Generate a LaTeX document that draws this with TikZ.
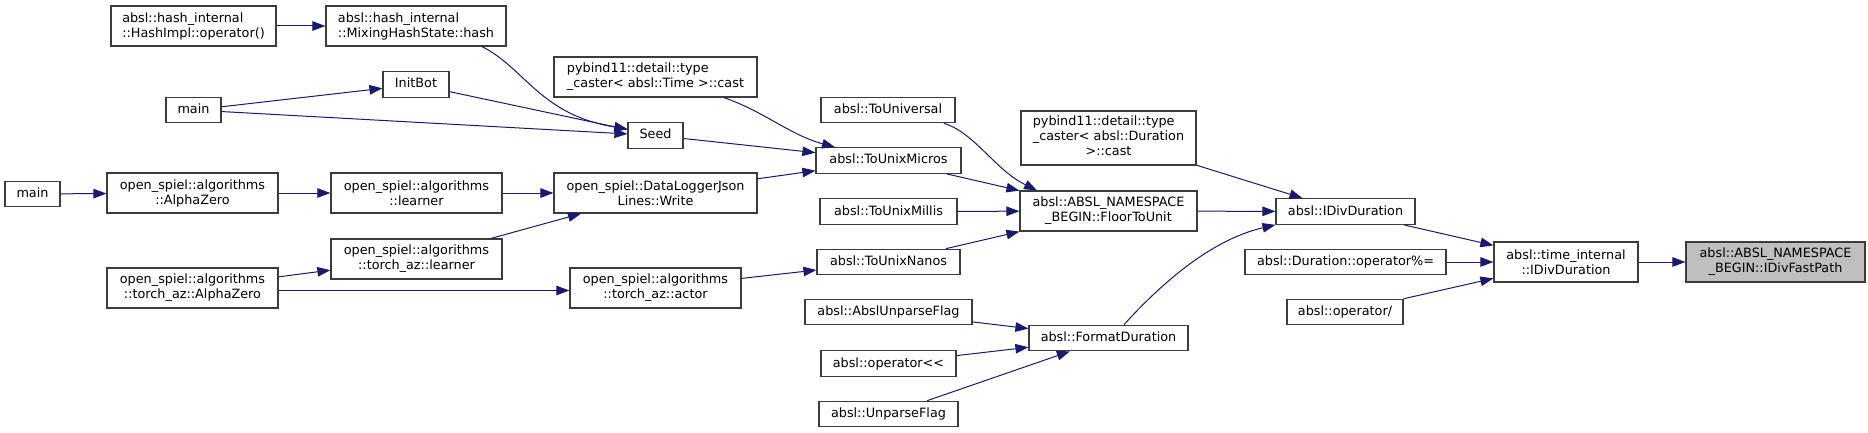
\documentclass[tikz,border=0pt]{standalone}
\usepackage{fontspec}
\setmainfont{DejaVu Sans}[Ligatures=TeXOff]
\usetikzlibrary{arrows.meta}
\definecolor{EdgeBlue}{RGB}{25,25,112}
\definecolor{BoxLine}{RGB}{60,60,60}
\definecolor{HiFill}{RGB}{191,191,191}

\begin{document}
\begin{tikzpicture}[x=1pt, y=-1pt,
    every node/.style={font=\fontsize{12.8pt}{15pt}\selectfont},
    fbox/.style={draw=BoxLine, line width=1.2pt, fill=white, inner sep=0pt},
    fn/.style={fbox, minimum height=25.5pt, text height=9.6pt, text depth=2.6pt},
    fn2/.style={fbox, minimum height=40pt, align=center},
    hl/.style={fill=HiFill},
    call/.style={EdgeBlue, line width=1pt, -{Triangle[length=13pt, width=9.5pt]}}]
    \useasboundingbox (0,0) rectangle (1868,433);

    \node[fn, minimum width=55pt] (mainleft) at (32.5,194) {main};
    \node[fn2, minimum width=165pt, align=left] (hashop) at (193.5,26) {absl::hash\_internal\\::HashImpl::operator()};
    \node[fn, minimum width=55pt] (maintop) at (193.5,110) {main};
    \node[fn2, minimum width=171pt] (alphazero) at (192.5,193) {open\_spiel::algorithms\\::AlphaZero};
    \node[fn2, minimum width=171pt] (torchalpha) at (192.5,288) {open\_spiel::algorithms\\::torch\_az::AlphaZero};

    \node[fn2, minimum width=180pt, align=left] (mixhash) at (416,26) {absl::hash\_internal\\::MixingHashState::hash};
    \node[fn, minimum width=66pt] (initbot) at (416,84.5) {InitBot};
    \node[fn2, minimum width=171pt] (learner) at (416.5,193) {open\_spiel::algorithms\\::learner};
    \node[fn2, minimum width=171pt] (torchlearner) at (416.5,259) {open\_spiel::algorithms\\::torch\_az::learner};

    \node[fn2, minimum width=203pt, align=left] (timecast) at (655.5,77) {pybind11::detail::type\\\_caster< absl::Time >::cast};
    \node[fn, minimum width=55pt] (seed) at (655.5,135.5) {Seed};
    \node[fn2, minimum width=203pt] (datalogger) at (655.5,193) {open\_spiel::DataLoggerJson\\Lines::Write};
    \node[fn2, minimum width=171pt] (torchactor) at (655.5,288) {open\_spiel::algorithms\\::torch\_az::actor};

    \node[fn, minimum width=134pt] (touniversal) at (888,110) {absl::ToUniversal};
    \node[fn, minimum width=145pt] (tomicros) at (888.5,160.5) {absl::ToUnixMicros};
    \node[fn, minimum width=137pt] (tomillis) at (888.5,211.5) {absl::ToUnixMillis};
    \node[fn, minimum width=143pt] (tonanos) at (888.5,262) {absl::ToUnixNanos};
    \node[fn, minimum width=167pt] (abslunparse) at (888.5,312) {absl::AbslUnparseFlag};
    \node[fn, minimum width=135pt] (opshift) at (888.5,363.5) {absl::operator<<};
    \node[fn, minimum width=139pt] (unparseflag) at (888.5,414) {absl::UnparseFlag};

    \node[fbox, minimum width=175pt, minimum height=54pt] (durcast) at (1108.5,138) {\begin{tabular}{@{}l@{}}pybind11::detail::type\\\_caster< absl::Duration\\\multicolumn{1}{@{}c@{}}{>::cast}\end{tabular}};
    \node[fn2, minimum width=177pt] (floortounit) at (1108.5,211) {absl::ABSL\_NAMESPACE\\\_BEGIN::FloorToUnit};
    \node[fn, minimum width=159pt] (formatdur) at (1108.5,338) {absl::FormatDuration};

    \node[fn, minimum width=139pt] (idivduration) at (1345.5,211.5) {absl::IDivDuration};
    \node[fn, minimum width=201pt] (durmod) at (1345.5,262) {absl::Duration::operator\%=};
    \node[fn, minimum width=116pt] (opdiv) at (1345,312) {absl::operator/};

    \node[fn2, minimum width=144pt] (timeidiv) at (1566,262) {absl::time\_internal\\::IDivDuration};
    \node[fn2, hl, minimum width=179pt] (fastpath) at (1775.5,262) {absl::ABSL\_NAMESPACE\\\_BEGIN::IDivFastPath};

    \draw[call] (hashop) -- (mixhash);
    \draw[call] ([xshift=66pt]mixhash.south) .. controls (525,68) and (540,115) .. ([yshift=6.5pt]seed.west);
    \draw[call] (maintop) -- (initbot);
    \draw[call] (maintop) -- (seed);
    \draw[call] (initbot) -- (seed);
    \draw[call] ([xshift=68.5pt]timecast.south) .. controls (765,112) and (790,135) .. ([xshift=-53.5pt]tomicros.north);
    \draw[call] (seed) -- (tomicros);
    \draw[call] (datalogger) -- (tomicros);
    \draw[call] ([xshift=56pt]touniversal.south) .. controls (975,133) and (995,170) .. ([xshift=-71.5pt]floortounit.north);
    \draw[call] (tomicros) -- (floortounit);
    \draw[call] (tomillis) -- (floortounit);
    \draw[call] (tonanos) -- (floortounit);
    \draw[call] (durcast) -- (idivduration);
    \draw[call] (floortounit) -- (idivduration);
    \draw[call] ([xshift=15.5pt]formatdur.north) .. controls (1160,285) and (1210,240) .. (idivduration.south west);
    \draw[call] (idivduration) -- (timeidiv);
    \draw[call] (durmod) -- (timeidiv);
    \draw[call] (opdiv) -- (timeidiv);
    \draw[call] (timeidiv) -- (fastpath);
    \draw[call] (mainleft) -- (alphazero);
    \draw[call] (alphazero) -- (learner);
    \draw[call] (learner) -- (datalogger);
    \draw[call] (torchlearner) -- (datalogger);
    \draw[call] (torchalpha) -- (torchlearner);
    \draw[call] ([yshift=-2.5pt]torchalpha.east) -- ([yshift=-2.5pt]torchactor.west);
    \draw[call] (torchactor) -- (tonanos);
    \draw[call] (abslunparse) -- (formatdur);
    \draw[call] (opshift) -- (formatdur);
    \draw[call] (unparseflag) -- (formatdur);
\end{tikzpicture}
\end{document}
